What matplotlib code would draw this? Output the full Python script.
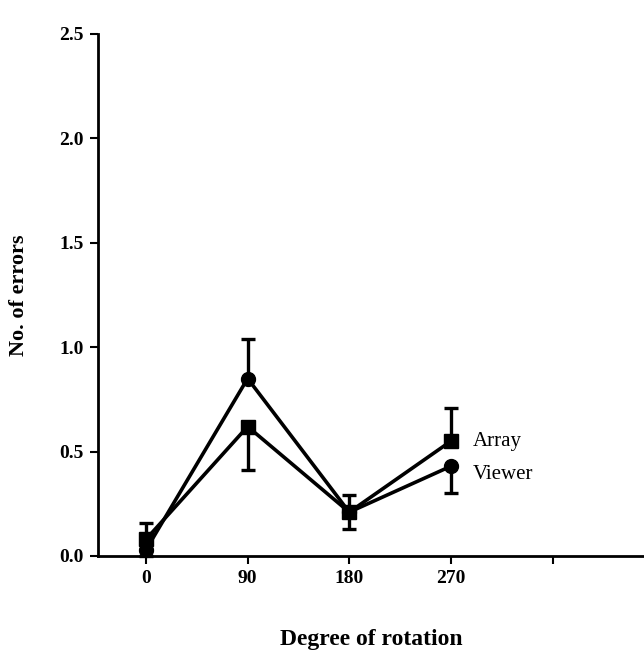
import numpy as np
import matplotlib.pyplot as plt

plt.rcParams['font.family'] = ['Liberation Serif', 'DejaVu Serif']

degrees = [0, 90, 180, 270]
array_mean = [0.08, 0.62, 0.21, 0.55]
array_err = [0.08, 0.21, 0.08, 0.16]
viewer_mean = [0.03, 0.85, 0.21, 0.43]
viewer_err = [0.03, 0.19, 0.08, 0.13]

fig = plt.figure(figsize=(6.44, 6.51), dpi=100)
ax = fig.add_axes([98 / 644, 95 / 651, 1 - 98 / 644, (556 - 34) / 651])

# error bars only on the side visible in the original
arr_lo = [array_err[0], array_err[1], array_err[2], 0]
arr_hi = [array_err[0], 0, array_err[2], array_err[3]]
view_lo = [0, 0, 0, viewer_err[3]]
view_hi = [0, viewer_err[1], 0, 0]

ax.errorbar(degrees, viewer_mean, yerr=[view_lo, view_hi], color='black', lw=2.6,
            marker='o', ms=10, capsize=5, capthick=2.4, elinewidth=2.4, clip_on=False)
ax.errorbar(degrees, array_mean, yerr=[arr_lo, arr_hi], color='black', lw=2.6,
            marker='s', ms=10, capsize=5, capthick=2.4, elinewidth=2.4, clip_on=False)

ax.set_xlim(-42.5, 441)
ax.set_ylim(0, 2.5)
ax.set_xticks([0, 90, 180, 270, 360])
ax.set_xticklabels(['0', '90', '180', '270', ''])
ax.set_yticks([0, 0.5, 1.0, 1.5, 2.0, 2.5])
ax.set_yticklabels(['0.0', '0.5', '1.0', '1.5', '2.0', '2.5'])
for lab in ax.get_xticklabels() + ax.get_yticklabels():
    lab.set_fontweight('bold')
    lab.set_fontsize(14)

ax.spines['top'].set_visible(False)
ax.spines['right'].set_visible(False)
ax.spines['left'].set_linewidth(2)
ax.spines['bottom'].set_linewidth(2)
ax.tick_params(direction='out', width=1.5, length=6, pad=4)

ax.set_xlabel('Degree of rotation', fontsize=17, fontweight='bold', labelpad=30)
ax.set_ylabel('No. of errors', fontsize=16, fontweight='bold', labelpad=22)

ax.text(289, 0.55, 'Array', fontsize=15, va='center', ha='left')
ax.text(289, 0.39, 'Viewer', fontsize=15, va='center', ha='left')

fig.savefig('out.png', dpi=100)
